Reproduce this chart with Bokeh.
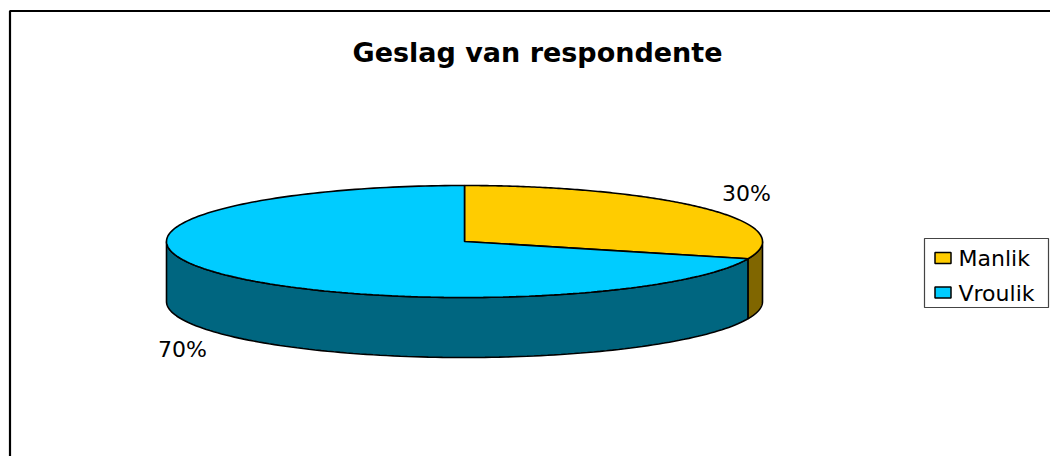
import numpy as np
from bokeh.plotting import figure
from bokeh.models import Range1d
from bokeh.core.properties import value
from bokeh.embed import file_html
from bokeh.resources import INLINE

# ---- data ----
title_text = "Geslag van respondente"
categories = ["Manlik", "Vroulik"]
values = [30, 70]
top_colors = ["#FFCC00", "#00CCFF"]
side_colors = ["#806600", "#006680"]

# ---- layout (pixels in figure space, y downward) ----
W, H = 1050, 456
cx, cy = 464.0, 241.0
rx, ry = 298.0, 56.0
depth = 60.0
FONT = "DejaVu Sans"

p = figure(width=W, height=H, output_backend="svg", toolbar_location=None,
           x_range=Range1d(0, W), y_range=Range1d(H, 0),
           x_axis_type=None, y_axis_type=None, min_border=0)
p.grid.visible = False
p.outline_line_color = None
p.background_fill_color = "white"

def ell(theta_deg, dy=0.0):
    t = np.radians(theta_deg)
    return cx + rx * np.cos(t), cy - ry * np.sin(t) + dy

total = float(sum(values))
fracs = [v / total for v in values]
starts, ends = [], []
a = 90.0
for f in fracs:
    starts.append(a)
    a = a - 360.0 * f
    ends.append(a)

# side walls (front half only)
for i in range(len(values)):
    lo, hi = ends[i], starts[i]
    for k in (-1, 0, 1):
        flo, fhi = -180 + 360 * k, 360 * k
        s, e = max(lo, flo), min(hi, fhi)
        if e > s:
            th = np.linspace(s, e, 120)
            xt, yt = ell(th)
            xb, yb = ell(th[::-1], depth)
            p.patch(np.concatenate([xt, xb]), np.concatenate([yt, yb]),
                    fill_color=side_colors[i], line_color="black", line_width=1.6)

# top faces
for i in range(len(values)):
    th = np.linspace(starts[i], ends[i], 200)
    xe, ye = ell(th)
    xs = np.concatenate([[cx], xe, [cx]])
    ys = np.concatenate([[cy], ye, [cy]])
    p.patch(xs, ys, fill_color=top_colors[i], line_color="black", line_width=1.6)

# data labels
lx, ly, lt = [], [], []
for i in range(len(values)):
    mid = (starts[i] + ends[i]) / 2.0
    t = np.radians(mid)
    x = cx + rx * 1.17 * np.cos(t)
    y = cy - ry * 1.46 * np.sin(t) + (depth if np.sin(t) < 0 else 0.0)
    lx.append(x)
    ly.append(y)
    lt.append(f"{values[i] / total * 100:.0f}%")
p.text(x=lx, y=ly, text=lt, text_font=value(FONT), text_font_size="22px",
       text_align="center", text_baseline="middle", text_color="black")

# title
p.text(x=[537], y=[52], text=[title_text], text_font=value(FONT),
       text_font_size="27px", text_font_style="bold", text_align="center",
       text_baseline="alphabetic", text_color="black")

# legend
p.quad(left=[924], right=[1048], top=[238], bottom=[307],
       fill_color="white", line_color="#444444", line_width=1.2)
leg_y = [257.5, 292.0]
p.rect(x=[942.5] * len(categories), y=leg_y, width=16, height=11,
       fill_color=top_colors, line_color="black", line_width=1.5)
p.text(x=[958] * len(categories), y=[yy + 0.5 for yy in leg_y], text=categories,
       text_font=value(FONT), text_font_size="22px", text_align="left",
       text_baseline="middle", text_color="black")

# chart border (right and bottom edges lie beyond the visible area)
p.quad(left=[9.5], right=[W + 50], top=[10.5], bottom=[H + 50],
       fill_color=None, line_color="black", line_width=2.2)

open("out.html", "w").write(file_html(p, INLINE))
